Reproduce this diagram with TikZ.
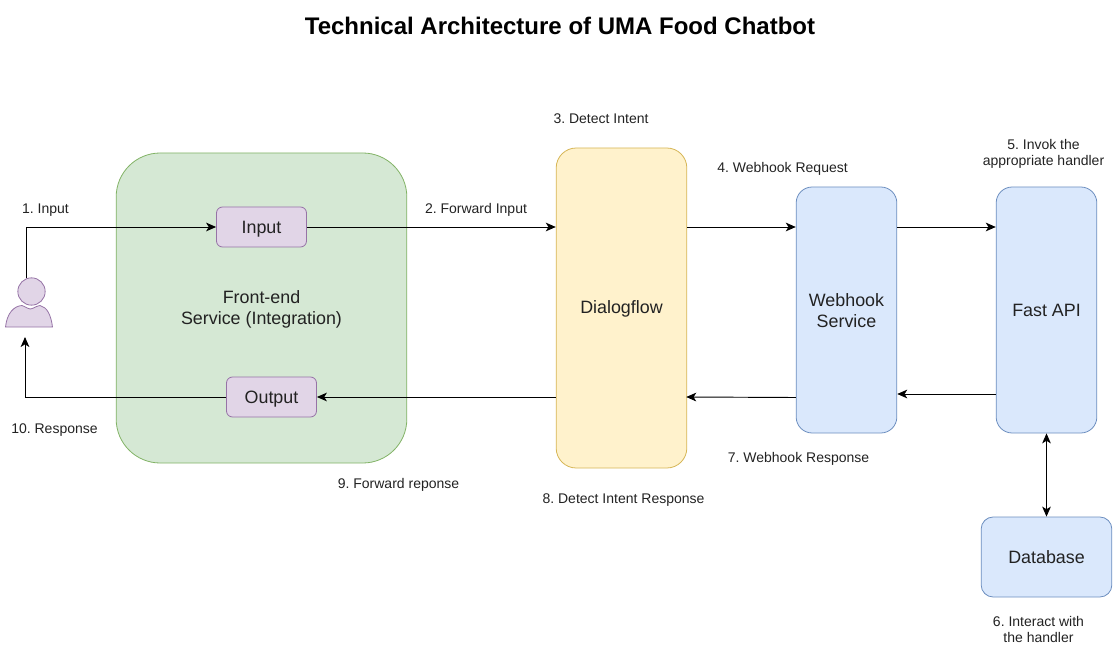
\documentclass[tikz,border=0pt]{standalone}
\usepackage{fontspec}
\setmainfont{Liberation Sans}
\usetikzlibrary{arrows.meta,calc}
\definecolor{greenF}{HTML}{D5E8D4}\definecolor{greenD}{HTML}{82B366}
\definecolor{purpF}{HTML}{E1D5E7}\definecolor{purpD}{HTML}{9673A6}
\definecolor{yelF}{HTML}{FFF2CC}\definecolor{yelD}{HTML}{D6B656}
\definecolor{bluF}{HTML}{DAE8FC}\definecolor{bluD}{HTML}{6C8EBF}
\definecolor{txt}{HTML}{222222}
\frenchspacing
\newcommand{\pad}[1]{\rule{0pt}{#1pt}}
\tikzset{
 box/.style={draw,line width=0.6pt,align=center,inner sep=0pt,text=txt},
 greenbox/.style={box,fill=greenF,draw=greenD,rounded corners=33pt,font=\fontsize{13.4}{15.8}\selectfont},
 purplebox/.style={box,fill=purpF,draw=purpD,rounded corners=4.5pt,minimum width=67.5pt,minimum height=30pt,font=\fontsize{13.4}{15.8}\selectfont},
 yellowbox/.style={box,fill=yelF,draw=yelD,rounded corners=15pt,font=\fontsize{13.4}{15.8}\selectfont},
 bluebox/.style={box,fill=bluF,draw=bluD,rounded corners=12pt,font=\fontsize{13.4}{15.8}\selectfont},
 lab/.style={inner sep=0pt,align=center,text=txt,font=\fontsize{10.5}{12}\selectfont},
 conn/.style={draw=black,line width=0.7pt,-{Stealth[length=7.5pt,width=6.5pt,inset=2pt]}},
 both/.style={draw=black,line width=0.7pt,{Stealth[length=7.5pt,width=6.5pt,inset=2pt]}-{Stealth[length=7.5pt,width=6.5pt,inset=2pt]}}
}
\begin{document}
\begin{tikzpicture}[x=0.75pt,y=-0.75pt]
\useasboundingbox (0,0) rectangle (1117,659);
\node[inner sep=0pt,font=\bfseries\fontsize{18}{20}\selectfont] (title) at (560,26) {Technical Architecture of UMA Food Chatbot};
\node[greenbox,minimum width=218pt,minimum height=232.5pt] (front) at (261.5,308) {\pad{12}Front-end\\Service (Integration)};
\node[purplebox] (input) at (261.5,227) {\pad{12}Input};
\node[purplebox] (output) at (271.5,397) {\pad{12}Output};
\node[yellowbox,minimum width=98pt,minimum height=240pt] (dialog) at (621.5,308) {\pad{11.3}Dialogflow};
\node[bluebox,minimum width=75.5pt,minimum height=184.5pt] (webhook) at (846.5,310) {\pad{11.3}Webhook\\Service};
\node[bluebox,minimum width=75.5pt,minimum height=184.5pt] (fast) at (1046.5,310) {Fast API};
\node[bluebox,rounded corners=9pt,minimum width=98pt,minimum height=60pt] (db) at (1046.5,557) {Database};
% person
\fill[purpF,draw=purpD,line width=0.6pt] (5.5,327) .. controls (7,313) and (14,306) .. (22,305.5) .. controls (26,307) and (28,309) .. (30,309) .. controls (33,309) and (36,306) .. (40,305.5) .. controls (47,307) and (51,315) .. (52.5,327) -- cycle;
\node[circle,fill=purpF,draw=purpD,line width=0.6pt,minimum size=20.5pt,inner sep=0pt] (head) at (31.5,291.5) {};
\coordinate (pTop) at (26.7,278.5);
\coordinate (pBot) at (25,337);
% connectors
\draw[conn] (pTop) |- (input.west);
\draw[conn] (input.east) -- (input.east -| dialog.west);
\draw[conn] ($(dialog.east)+(0,-81)$) -- ($(webhook.west)+(0,-83)$);
\draw[conn] ($(webhook.east)+(0,-83)$) -- ($(fast.west)+(0,-83)$);
\draw[conn] ($(fast.west)+(0,84)$) -- ($(webhook.east)+(0,84)$);
\draw[conn] ($(webhook.west)+(0,87.5)$) -- ($(dialog.east)+(-1,89)$);
\draw[conn] ($(dialog.west)+(0,89)$) -- (output.east);
\draw[conn] (output.west) -| (pBot);
\draw[both] (fast.south) -- (db.north);
% labels
\node[lab] (l1) at (45.5,210) {1. Input};
\node[lab] (l2) at (476,209.5) {2. Forward Input};
\node[lab] (l3) at (601,118.5) {3. Detect Intent};
\node[lab] (l4) at (782.5,169) {4. Webhook Request};
\node[lab] (l5) at (1043.5,153.5) {5. Invok the\\appropriate handler};
\node[lab] (l6) at (1038.5,629.5) {6. Interact with\\the handler};
\node[lab] (l7) at (798.5,459) {7. Webhook Response};
\node[lab] (l8) at (623.5,500) {8. Detect Intent Response};
\node[lab] (l9) at (398.5,485) {9. Forward reponse};
\node[lab] (l10) at (54.5,430) {10. Response};
\end{tikzpicture}
\end{document}
